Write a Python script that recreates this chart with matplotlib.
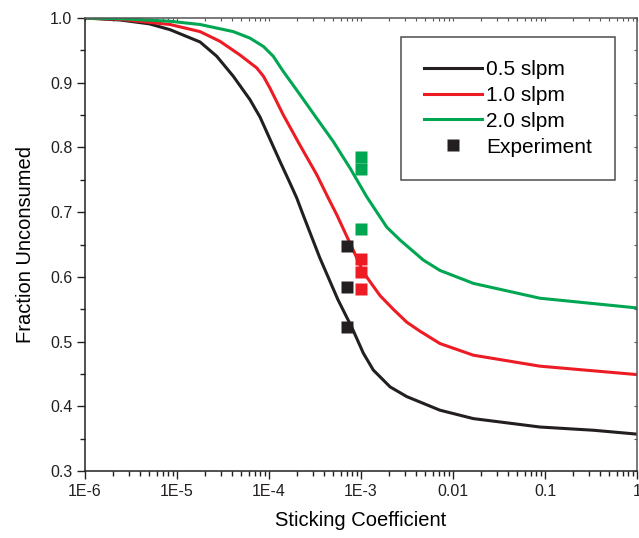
import matplotlib
matplotlib.use("Agg")
import matplotlib.pyplot as plt
from matplotlib.ticker import LogLocator, NullFormatter, MultipleLocator

plt.rcParams['font.family'] = ['Liberation Sans', 'DejaVu Sans']

# model curves: sticking coefficient vs fraction unconsumed
s_05 = [1e-6, 2.4e-6, 5e-6, 8.4e-6, 1.78e-5, 2.7e-5, 4.09e-5, 6.2e-5, 7.98e-5, 1.03e-4,
        1.32e-4, 1.69e-4, 2.0e-4, 2.36e-4, 3.55e-4, 5.6e-4, 8.0e-4, 1.06e-3, 1.36e-3,
        2.07e-3, 3.14e-3, 7.2e-3, 1.66e-2, 8.8e-2, 0.336, 1.0]
f_05 = [1.0, 0.997, 0.991, 0.982, 0.963, 0.941, 0.910, 0.874, 0.847, 0.812,
        0.778, 0.745, 0.722, 0.695, 0.630, 0.565, 0.521, 0.482, 0.456,
        0.430, 0.415, 0.394, 0.381, 0.368, 0.363, 0.357]
s_10 = [1e-6, 2.4e-6, 8.4e-6, 1.78e-5, 2.93e-5, 4.82e-5, 7.34e-5, 8.7e-5, 1.03e-4, 1.42e-4,
        2.16e-4, 3.3e-4, 4.4e-4, 5.45e-4, 8.24e-4, 1.0e-3, 1.15e-3, 1.61e-3, 2.24e-3,
        3.14e-3, 4.38e-3, 7.2e-3, 1.66e-2, 8.8e-2, 1.0]
f_10 = [1.0, 0.998, 0.990, 0.979, 0.964, 0.943, 0.923, 0.910, 0.891, 0.851,
        0.804, 0.758, 0.722, 0.696, 0.641, 0.615, 0.600, 0.571, 0.550,
        0.530, 0.516, 0.497, 0.479, 0.462, 0.449]
s_20 = [1e-6, 2.4e-6, 8.4e-6, 1.78e-5, 4.09e-5, 6.2e-5, 8.7e-5, 1.11e-4, 1.42e-4, 2.16e-4,
        3.3e-4, 5.0e-4, 7.6e-4, 1.15e-3, 1.9e-3, 2.65e-3, 4.75e-3, 7.2e-3, 1.66e-2,
        8.8e-2, 1.0]
f_20 = [1.0, 0.999, 0.995, 0.990, 0.979, 0.969, 0.956, 0.941, 0.918, 0.882,
        0.845, 0.809, 0.768, 0.724, 0.677, 0.657, 0.626, 0.610, 0.590,
        0.567, 0.552]

# experiment points
exp_05_s = [7.0e-4, 7.0e-4, 7.0e-4]
exp_05_f = [0.648, 0.584, 0.523]
exp_10_s = [1.0e-3, 1.0e-3, 1.0e-3]
exp_10_f = [0.627, 0.608, 0.582]
exp_20_s = [1.0e-3, 1.0e-3, 1.0e-3]
exp_20_f = [0.786, 0.767, 0.674]

xtick_vals = [1e-6, 1e-5, 1e-4, 1e-3, 1e-2, 1e-1, 1]
xtick_labels = ['1E-6', '1E-5', '1E-4', '1E-3', '0.01', '0.1', '1']

black = '#231f20'
red = '#ed1c24'
green = '#00a651'

fig = plt.figure(figsize=(6.39, 5.38), dpi=100)
ax = fig.add_axes([0.133, 0.1245, 0.864, 0.842])

l1, = ax.plot(s_05, f_05, color=black, lw=2.2, label='0.5 slpm', solid_joinstyle='round')
l2, = ax.plot(s_10, f_10, color=red, lw=2.2, label='1.0 slpm', solid_joinstyle='round')
l3, = ax.plot(s_20, f_20, color=green, lw=2.2, label='2.0 slpm', solid_joinstyle='round')
ax.plot(exp_05_s, exp_05_f, 's', color=black, ms=9, mec='none')
ax.plot(exp_10_s, exp_10_f, 's', color=red, ms=9, mec='none')
ax.plot(exp_20_s, exp_20_f, 's', color=green, ms=9, mec='none')
l4, = ax.plot([], [], 's', color=black, ms=9, mec='none', label='Experiment')

ax.set_xscale('log')
ax.set_xlim(1e-6, 1)
ax.set_ylim(0.3, 1.0)
ax.set_xticks(xtick_vals)
ax.set_xticklabels(xtick_labels)
ax.xaxis.set_minor_locator(LogLocator(base=10, subs=range(2, 10), numticks=20))
ax.xaxis.set_minor_formatter(NullFormatter())
ax.yaxis.set_major_locator(MultipleLocator(0.1))
ax.yaxis.set_minor_locator(MultipleLocator(0.05))
ax.set_yticklabels([f'{v:.1f}' for v in ax.get_yticks()])

ax.tick_params(which='major', direction='out', length=6, width=1, labelsize=11.5, pad=3,
               top=False, right=False, colors=black)
ax.tick_params(which='minor', direction='out', length=3.5, width=1, top=False, right=False,
               colors=black)
for sp in ax.spines.values():
    sp.set_linewidth(1.1)
    sp.set_color(black)
ax.spines['top'].set_color('#555555')
ax.spines['right'].set_color('#555555')

# small inward ticks on the top and right frame
top = ax.secondary_xaxis('top')
top.set_xticks(xtick_vals)
top.xaxis.set_minor_locator(LogLocator(base=10, subs=range(2, 10), numticks=20))
top.tick_params(which='both', direction='in', length=2.5, width=0.8, colors='#555555',
                labeltop=False)
top.spines['top'].set_visible(False)
right = ax.secondary_yaxis('right')
right.yaxis.set_major_locator(MultipleLocator(0.1))
right.yaxis.set_minor_locator(MultipleLocator(0.05))
right.tick_params(which='both', direction='in', length=2.5, width=0.8, colors='#555555',
                  labelright=False)
right.spines['right'].set_visible(False)

ax.set_xlabel('Sticking Coefficient', fontsize=14.5, labelpad=9)
ax.set_ylabel('Fraction Unconsumed', fontsize=14.5, labelpad=11)

leg = ax.legend(handles=[l1, l2, l3, l4], loc='upper right', bbox_to_anchor=(0.96, 0.958),
                fontsize=15, frameon=True, fancybox=False, edgecolor=black,
                handlelength=2.8, handletextpad=0.2, labelspacing=0.33,
                borderpad=1.1, borderaxespad=0)
leg.get_frame().set_linewidth(1.1)

plt.savefig('out.png', dpi=100)
